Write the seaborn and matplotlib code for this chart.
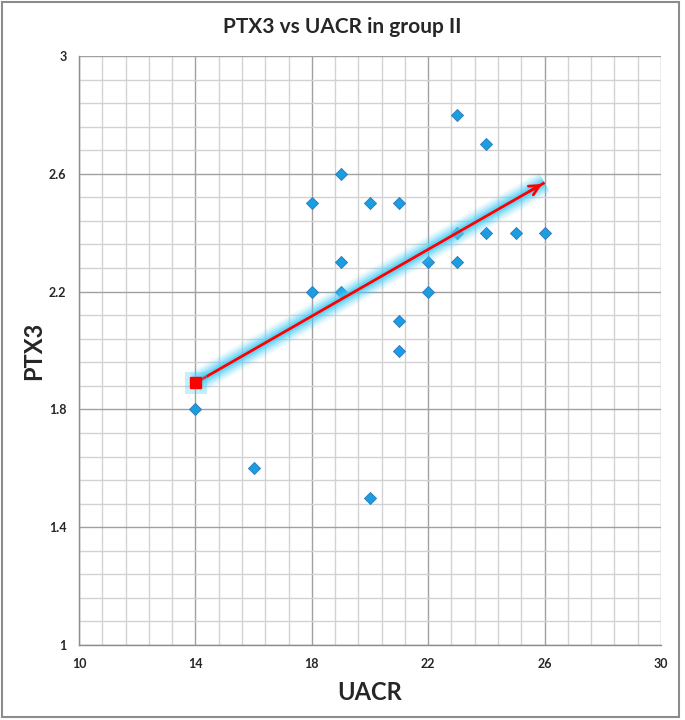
import matplotlib
matplotlib.use("Agg")
import matplotlib.pyplot as plt
import matplotlib.patheffects as pe
from matplotlib.patches import Rectangle
import numpy as np
import seaborn as sns
import pandas as pd

uacr = [23, 24, 19, 18, 20, 21, 23, 24, 25, 26, 19, 22, 23, 18, 19, 22, 21, 21, 14, 16, 20]
ptx3 = [2.8, 2.7, 2.6, 2.5, 2.5, 2.5, 2.4, 2.4, 2.4, 2.4, 2.3, 2.3, 2.3, 2.2, 2.2, 2.2, 2.1, 2.0, 1.8, 1.6, 1.5]

# trend arrow drawn by hand in the original
arrow_x = [14, 26]
arrow_y = [1.89, 2.57]

x_ticks = [10, 14, 18, 22, 26, 30]
y_ticks = [1, 1.4, 1.8, 2.2, 2.6, 3]

df = pd.DataFrame({"UACR": uacr, "PTX3": ptx3})

sns.set_style("white")
plt.rcParams["font.family"] = ["Lato", "DejaVu Sans"]

fig = plt.figure(figsize=(6.85, 7.2), dpi=100)
fig.patches.append(Rectangle((2 / 685, 3 / 720), 677 / 685, 715 / 720, transform=fig.transFigure,
                             fill=False, edgecolor="#8c8c8c", lw=1.5))
ax = fig.add_axes([79 / 685, 75 / 720, 582 / 685, 589 / 720])

sns.scatterplot(data=df, x="UACR", y="PTX3", marker="D", s=38, color="#1b9de2",
                edgecolor="#2f78b8", linewidth=0.6, ax=ax, zorder=3)

glow = [pe.Stroke(linewidth=lw, foreground="#45cdf7", alpha=a)
        for lw, a in [(17, 0.1), (14, 0.15), (11, 0.22), (8, 0.32), (5, 0.5)]]
glow.append(pe.Normal())
ax.plot(arrow_x, arrow_y, color="red", lw=2, zorder=4, path_effects=glow, solid_capstyle="butt")
ax.plot(arrow_x[0], arrow_y[0], marker="s", ms=8, color="red", zorder=5,
        path_effects=[pe.Stroke(linewidth=8, foreground="#45cdf7", alpha=0.3), pe.Normal()])
ax.annotate("", xy=(arrow_x[1], arrow_y[1]), xytext=(arrow_x[1] - 0.6, arrow_y[1] - 0.034),
            arrowprops=dict(arrowstyle="->", color="red", lw=2, mutation_scale=18), zorder=5)

ax.set_xlim(10, 30)
ax.set_ylim(1, 3)
ax.set_xticks(x_ticks)
ax.set_yticks(y_ticks)
ax.set_xticks(np.linspace(10, 30, 26), minor=True)
ax.set_yticks(np.linspace(1, 3, 26), minor=True)
ax.grid(which="minor", color="#d2d2d2", lw=1)
ax.grid(which="major", color="#a0a0a0", lw=1)
ax.set_axisbelow(True)

for s in ["top", "right"]:
    ax.spines[s].set_visible(False)
for s in ["left", "bottom"]:
    ax.spines[s].set_color("#8c8c8c")
    ax.spines[s].set_linewidth(1)

ax.tick_params(which="major", direction="out", length=4, color="#8c8c8c", labelsize=9, pad=5)
ax.tick_params(which="minor", length=0)
ax.set_xticklabels([f"{v:g}" for v in x_ticks], fontweight="bold")
ax.set_yticklabels([f"{v:g}" for v in y_ticks], fontweight="bold")

ax.set_xlabel("UACR", fontsize=17, fontweight="bold", labelpad=8)
ax.set_ylabel("PTX3", fontsize=17, fontweight="bold", labelpad=3)
fig.text(0.5, 1 - 27 / 720, "PTX3 vs UACR in group II", ha="center", va="center",
         fontsize=15, fontweight="bold")

fig.savefig("out.png", dpi=100)
